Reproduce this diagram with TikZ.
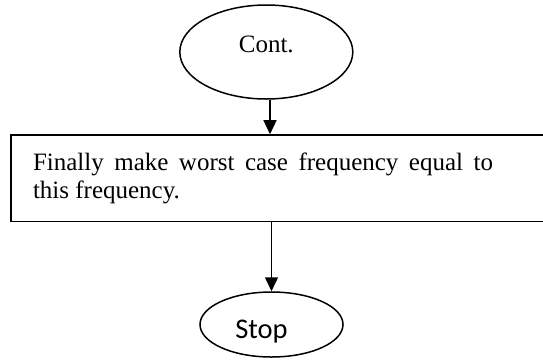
\documentclass[tikz,border=0pt]{standalone}
\usepackage{fontspec}
\setmainfont{Liberation Serif}
\newfontfamily\calib{Carlito}
\usetikzlibrary{shapes.geometric,arrows.meta}
\begin{document}
\begin{tikzpicture}[x=1pt,y=-1pt,
  term/.style={draw,ellipse,line width=1.5pt,inner sep=0pt},
  procbox/.style={draw,rectangle,line width=1.5pt,inner ysep=0pt,inner xsep=22pt,
    minimum width=539pt,minimum height=86.7pt,
    font=\fontsize{25}{28}\selectfont},
  arr/.style={line width=1.5pt,-{Triangle[length=14pt,width=13pt]}}]
\clip (0,0) rectangle (543,360);
\node[term,minimum width=173pt,minimum height=94pt,text height=10pt,text depth=10pt,
  font=\fontsize{25}{28}\selectfont] (cont) at (266.3,52) {Cont.};
\node[procbox] (box) at (280.5,178.3) {\parbox{495pt}{\rightskip=35pt\parindent=0pt
  Finally make worst case frequency equal to this frequency.}};
\node[term,minimum width=143pt,minimum height=65pt,text height=27pt,text depth=0pt,
  font=\calib\fontsize{28.5}{30}\selectfont] (stop) at (271.5,324.5) {Stop\hspace*{20pt}};
\draw[arr] ([xshift=3.7pt]cont.south) -- ([xshift=3.7pt]cont.south |- box.north);
\draw[arr] (box.south -| stop.north) -- (stop.north);
\end{tikzpicture}
\end{document}
